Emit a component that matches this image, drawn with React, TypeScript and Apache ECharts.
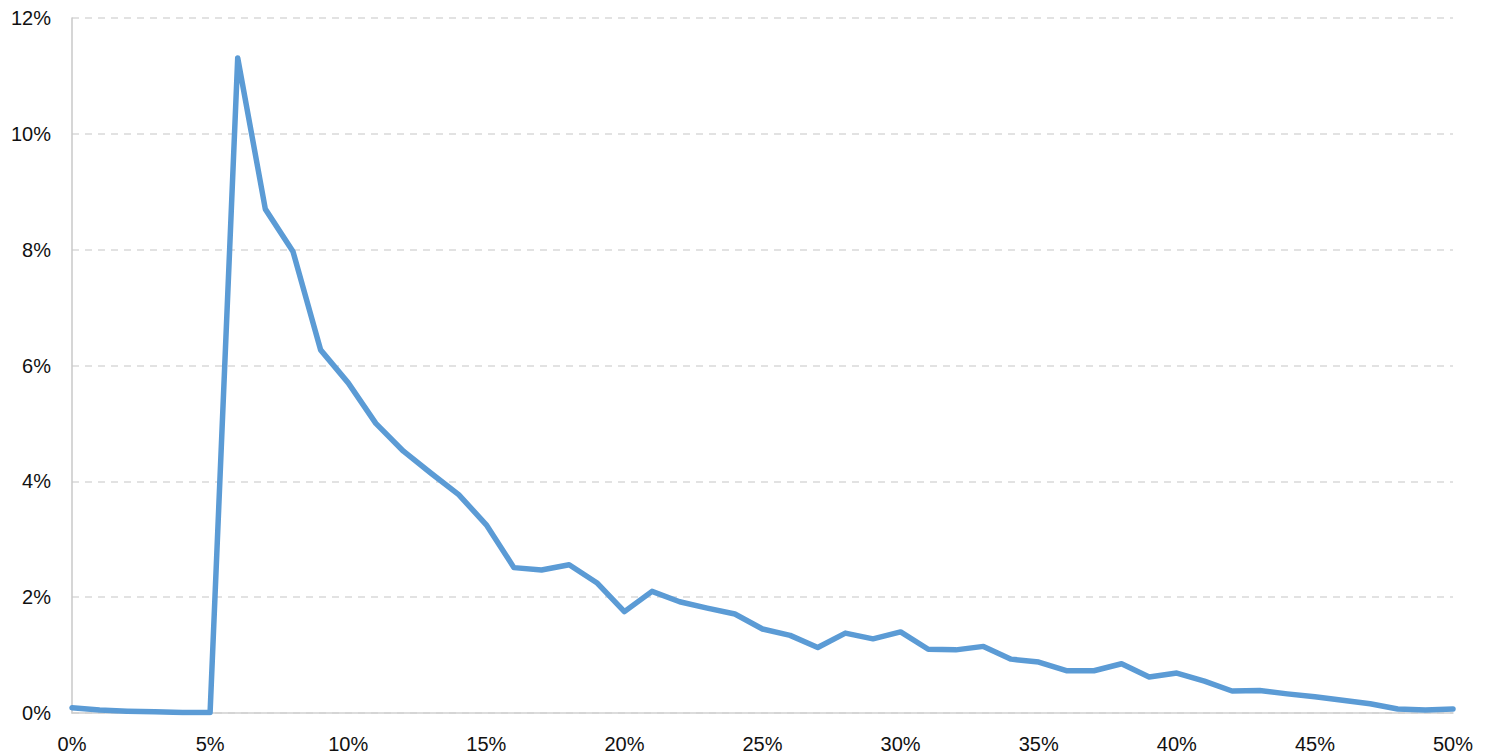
import React, { useEffect, useRef } from "react";
import * as echarts from "echarts";

const xValues: number[] = Array.from({ length: 51 }, (_, i) => i);
const yValues: number[] = [
  0.09, 0.05, 0.03, 0.02, 0.01, 0.01, 11.31, 8.70, 7.97, 6.27,
  5.70, 5.00, 4.52, 4.14, 3.77, 3.25, 2.51, 2.47, 2.56, 2.25,
  1.75, 2.10, 1.92, 1.81, 1.71, 1.45, 1.34, 1.13, 1.38, 1.28,
  1.40, 1.10, 1.09, 1.15, 0.93, 0.88, 0.73, 0.73, 0.85, 0.62,
  0.69, 0.55, 0.38, 0.39, 0.33, 0.28, 0.22, 0.16, 0.07, 0.05,
  0.07,
];

const FONT = "'Liberation Sans Narrow', 'Arial Narrow', 'Liberation Sans', Arial, sans-serif";

export default function App() {
  const ref = useRef<HTMLDivElement>(null);
  useEffect(() => {
    if (!ref.current) return;
    const chart = echarts.init(ref.current, undefined, { renderer: "svg" });
    chart.setOption({
      animation: false,
      backgroundColor: "#ffffff",
      grid: { left: 72, right: 32, top: 18, bottom: 41, containLabel: false },
      xAxis: {
        type: "value",
        min: 0,
        max: 50,
        interval: 5,
        axisLine: { show: true, lineStyle: { color: "#d0d0d0", width: 1.5 } },
        axisTick: { show: false },
        splitLine: { show: false },
        axisLabel: {
          formatter: (v: number) => `${v}%`,
          color: "#111111",
          fontFamily: FONT,
          fontSize: 20,
          margin: 21,
        },
      },
      yAxis: {
        type: "value",
        min: 0,
        max: 12,
        interval: 2,
        axisLine: { show: true, lineStyle: { color: "#c8c8c8", width: 1.5 } },
        axisTick: { show: false },
        splitLine: { show: true, lineStyle: { color: "#d9d9d9", type: [7, 6], width: 1.5 } },
        axisLabel: {
          formatter: (v: number) => `${v}%`,
          color: "#111111",
          fontFamily: FONT,
          fontSize: 20,
          margin: 21,
        },
      },
      series: [
        {
          type: "line",
          data: xValues.map((x, i) => [x, yValues[i]]),
          showSymbol: false,
          symbol: "none",
          lineStyle: { color: "#5b9bd5", width: 5.5, cap: "round", join: "round" },
          z: 3,
        },
      ],
    });
    return () => chart.dispose();
  }, []);
  return (
    <div
      ref={ref}
      style={{ position: "fixed", left: 0, top: 0, width: 1485, height: 754, background: "#fff" }}
    />
  );
}
